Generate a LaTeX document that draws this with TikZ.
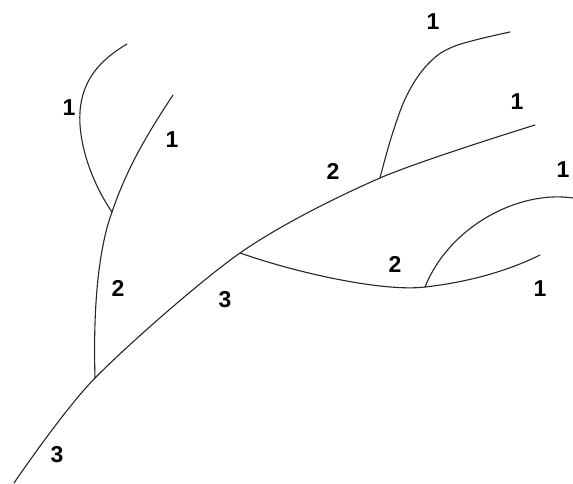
\documentclass[tikz,border=0pt]{standalone}
\usepackage{fontspec}
\setmainfont{Liberation Sans}
\begin{document}
\begin{tikzpicture}[x=1pt,y=-1pt,
  stream/.style={draw=black!85,line width=1.1pt,line cap=round},
  order/.style={font=\bfseries\fontsize{23}{23}\selectfont,inner sep=0pt,text=black}]
\useasboundingbox (0,0) rectangle (573,483);
% junctions and ends
\coordinate (mouth) at (14,483);
\coordinate (j1) at (95,378);
\coordinate (j2) at (240,253);
\coordinate (j3) at (380,178);
\coordinate (e1) at (535,125);
\coordinate (j4) at (112,212);
\coordinate (b1) at (80,112);
\coordinate (s1) at (127,44);
\coordinate (s2) at (173,95);
\coordinate (j5) at (425,287);
\coordinate (s3) at (573,198);
\coordinate (s4) at (540,255);
\coordinate (s5) at (510,32);
% main stem
\draw[stream] plot[smooth,tension=0.5] coordinates {(mouth) (j1) (j2) (j3) (e1)};
% left tributary
\draw[stream] (j1) .. controls (93,310) and (98,250) .. (j4);
\draw[stream] (j4) .. controls (90,180) and (78,140) .. (b1) .. controls (82,80) and (100,60) .. (s1);
\draw[stream] (j4) .. controls (128,165) and (150,130) .. (s2);
% lower tributary
\draw[stream] (j2) .. controls (300,274) and (385,292) .. (j5);
\draw[stream] (j5) .. controls (450,225) and (520,190) .. (s3);
\draw[stream] (j5) .. controls (470,282) and (510,270) .. (s4);
% upper tributary
\draw[stream] plot[smooth,tension=0.6] coordinates {(j3) (392,135) (407,95) (428,64) (455,46) (s5)};
% labels
\node[order] (l1) at (433,22) {1};
\node[order] (l2) at (517,102) {1};
\node[order] (l3) at (563,170) {1};
\node[order] (l4) at (333,171) {2};
\node[order] (l5) at (395,264) {2};
\node[order] (l6) at (540,289) {1};
\node[order] (l7) at (69,108) {1};
\node[order] (l8) at (172,140) {1};
\node[order] (l9) at (118,288) {2};
\node[order] (l10) at (225,300) {3};
\node[order] (l11) at (57,455) {3};
\end{tikzpicture}
\end{document}
